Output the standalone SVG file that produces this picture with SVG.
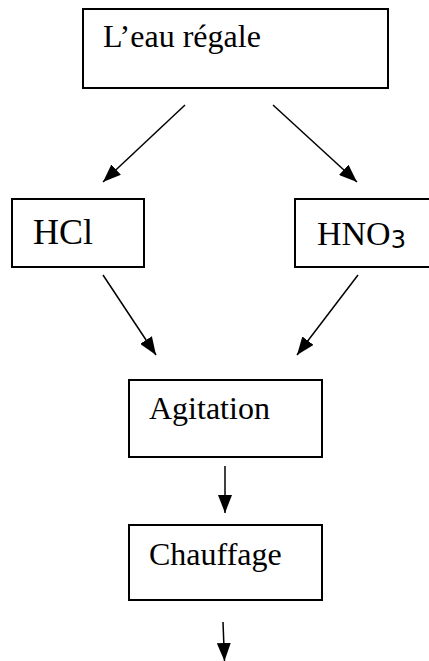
<svg xmlns="http://www.w3.org/2000/svg" width="429" height="661" viewBox="0 0 429 661">
<defs>
<style>
.box{fill:#fff;stroke:#000;stroke-width:2}
.t{font-family:"Liberation Serif","Times New Roman",serif;fill:#000}
.c{stroke:#000;stroke-width:1.5;fill:none}
</style>
<marker id="ahb" markerWidth="18" markerHeight="14" refX="18" refY="7" orient="auto" markerUnits="userSpaceOnUse" viewBox="0 0 18 14">
<path d="M0,0 L18,7 L0,14 Z" fill="#000"/>
</marker>
</defs>
<rect width="429" height="661" fill="#fff"/>
<g id="eau">
<rect class="box" x="83" y="9" width="305" height="79"/>
<text class="t" x="103" y="47" font-size="32">L’eau régale</text>
</g>
<g id="hcl">
<rect class="box" x="12" y="199" width="132" height="68"/>
<text class="t" x="33" y="244" font-size="36">HCl</text>
</g>
<g id="hno3">
<rect class="box" x="295" y="199" width="140" height="68"/>
<text class="t" x="317" y="245" font-size="34">HNO<tspan font-family="'DejaVu Sans',sans-serif" font-size="24" dy="3">3</tspan></text>
</g>
<g id="agitation">
<rect class="box" x="129" y="380" width="193" height="77"/>
<text class="t" x="149" y="419" font-size="32">Agitation</text>
</g>
<g id="chauffage">
<rect class="box" x="129" y="525" width="193" height="75"/>
<text class="t" x="149" y="565" font-size="32">Chauffage</text>
</g>
<g id="connectors">
<line class="c" x1="185" y1="105" x2="103" y2="182" marker-end="url(#ahb)"/>
<line class="c" x1="273" y1="105" x2="357" y2="182" marker-end="url(#ahb)"/>
<line class="c" x1="103" y1="275" x2="156" y2="355" marker-end="url(#ahb)"/>
<line class="c" x1="358" y1="275" x2="297" y2="355" marker-end="url(#ahb)"/>
<line class="c" x1="225" y1="466" x2="225" y2="513" marker-end="url(#ahb)"/>
<line class="c" x1="223" y1="622" x2="224.5" y2="661" marker-end="url(#ahb)"/>
</g>
</svg>
